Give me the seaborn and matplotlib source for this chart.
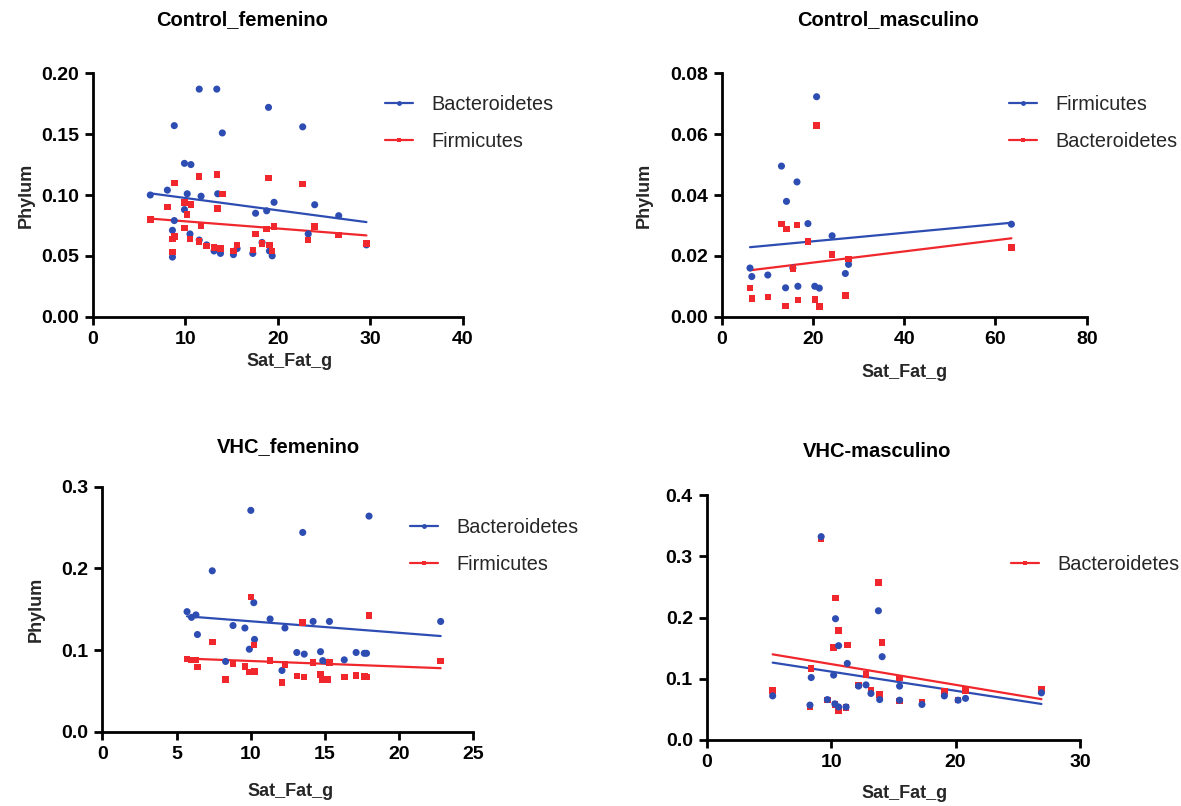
import matplotlib
matplotlib.use("Agg")
import matplotlib.pyplot as plt
from matplotlib.lines import Line2D
from matplotlib.ticker import FormatStrFormatter
import seaborn as sns

sns.set_theme(style="ticks")
plt.rcParams["font.family"] = ["Liberation Sans", "DejaVu Sans"]

BLUE = "#2E4DB3"
RED = "#F0272C"

# ---- Control_femenino ----
cf_sat_fat = [6.2, 8.05, 8.8, 8.8, 8.6, 8.6, 9.9, 9.9, 10.6, 10.2, 10.5, 11.5, 11.5, 11.7,
              12.3, 13.4, 13.5, 13.1, 13.8, 14.0, 15.6, 15.2, 17.3, 17.6, 18.3, 18.8, 19.0,
              19.1, 19.4, 19.6, 22.7, 23.3, 24.0, 26.6, 29.6]
cf_bacteroidetes = [0.100, 0.104, 0.157, 0.079, 0.071, 0.049, 0.126, 0.088, 0.125, 0.101,
                    0.068, 0.187, 0.063, 0.099, 0.059, 0.187, 0.101, 0.054, 0.052, 0.151,
                    0.056, 0.051, 0.052, 0.085, 0.061, 0.087, 0.172, 0.054, 0.050, 0.094,
                    0.156, 0.068, 0.092, 0.083, 0.059]
cf_firmicutes = [0.080, 0.090, 0.110, 0.066, 0.064, 0.053, 0.094, 0.073, 0.092, 0.084,
                 0.064, 0.115, 0.062, 0.075, 0.058, 0.117, 0.089, 0.057, 0.056, 0.101,
                 0.059, 0.054, 0.055, 0.068, 0.060, 0.072, 0.114, 0.059, 0.054, 0.074,
                 0.109, 0.063, 0.074, 0.067, 0.060]

# ---- Control_masculino ----
cm_sat_fat = [6.2, 6.6, 10.1, 13.1, 14.0, 14.2, 15.6, 16.5, 16.7, 18.9, 20.4, 20.8, 21.4,
              24.2, 27.1, 27.8, 63.5]
cm_firmicutes = [0.0160, 0.0132, 0.0137, 0.0495, 0.0095, 0.0379, 0.0160, 0.0443, 0.0100,
                 0.0306, 0.0100, 0.0723, 0.0094, 0.0266, 0.0142, 0.0172, 0.0304]
cm_bacteroidetes = [0.0095, 0.0059, 0.0065, 0.0304, 0.0035, 0.0288, 0.0158, 0.0302, 0.0055,
                    0.0247, 0.0057, 0.0628, 0.0034, 0.0204, 0.0070, 0.0190, 0.0227]

# ---- VHC_femenino ----
vf_sat_fat = [5.7, 6.0, 6.3, 6.4, 7.4, 8.3, 8.8, 9.6, 9.9, 10.0, 10.2, 10.25, 11.3, 12.1,
              12.3, 13.1, 13.5, 13.6, 14.2, 14.7, 14.85, 15.2, 15.3, 16.3, 17.1, 17.65,
              17.8, 17.97, 22.8]
vf_bacteroidetes = [0.147, 0.140, 0.143, 0.119, 0.197, 0.086, 0.130, 0.127, 0.101, 0.271,
                    0.158, 0.113, 0.138, 0.075, 0.127, 0.097, 0.244, 0.095, 0.135, 0.098,
                    0.087, 0.085, 0.135, 0.088, 0.097, 0.096, 0.096, 0.264, 0.135]
vf_firmicutes = [0.089, 0.088, 0.088, 0.079, 0.110, 0.064, 0.083, 0.080, 0.073, 0.165,
                 0.106, 0.074, 0.087, 0.060, 0.082, 0.068, 0.134, 0.067, 0.085, 0.070,
                 0.064, 0.064, 0.085, 0.067, 0.0686, 0.0678, 0.067, 0.142, 0.0865]

# ---- VHC-masculino ----
vm_sat_fat = [5.3, 8.3, 8.4, 9.2, 9.7, 10.2, 10.3, 10.35, 10.6, 10.6, 11.2, 11.3, 12.2,
              12.8, 13.2, 13.8, 13.9, 14.1, 15.5, 15.5, 17.3, 19.1, 20.2, 20.8, 26.9]
vm_firmicutes = [0.072, 0.057, 0.102, 0.332, 0.066, 0.106, 0.059, 0.198, 0.154, 0.054,
                 0.054, 0.125, 0.088, 0.090, 0.076, 0.211, 0.066, 0.136, 0.088, 0.065,
                 0.058, 0.072, 0.065, 0.068, 0.077]
vm_bacteroidetes = [0.081, 0.054, 0.117, 0.329, 0.065, 0.151, 0.058, 0.232, 0.179, 0.047,
                    0.053, 0.155, 0.090, 0.107, 0.082, 0.257, 0.074, 0.159, 0.101, 0.064,
                    0.062, 0.079, 0.065, 0.081, 0.083]

W, H = 1181, 806
fig = plt.figure(figsize=(W / 100, H / 100), dpi=100)


def px_axes(left, right, top, bottom):
    return fig.add_axes([left / W, 1 - bottom / H, (right - left) / W, (bottom - top) / H])


def draw_series(ax, x, y, color, marker, size):
    sns.scatterplot(x=x, y=y, color=color, marker=marker, s=size, edgecolor="none",
                    linewidth=0, legend=False, ax=ax, zorder=3, clip_on=False)
    sns.regplot(x=x, y=y, scatter=False, ci=None, truncate=True, color=color,
                line_kws=dict(lw=1.6, zorder=2), ax=ax)


def style_axes(ax, xlim, xticks, ylim, yticks, yfmt, show_ylabel, xlab_pos, ylab_pos):
    ax.set_xlim(*xlim)
    ax.set_ylim(*ylim)
    ax.set_xticks(xticks)
    ax.set_yticks(yticks)
    ax.yaxis.set_major_formatter(FormatStrFormatter(yfmt))
    sns.despine(ax=ax)
    for side in ("left", "bottom"):
        ax.spines[side].set_linewidth(2.0)
        ax.spines[side].set_color("black")
    ax.tick_params(axis="both", direction="out", length=6, width=2.0, color="black",
                   labelsize=14, pad=4, labelcolor="black")
    for lab in ax.get_xticklabels() + ax.get_yticklabels():
        lab.set_fontweight("bold")
    ax.set_xlabel("Sat_Fat_g", fontsize=13, fontweight="bold")
    ax.xaxis.set_label_coords(*xlab_pos)
    if show_ylabel:
        ax.set_ylabel("Phylum", fontsize=13, fontweight="bold")
        ax.yaxis.set_label_coords(*ylab_pos)
    else:
        ax.set_ylabel("")
    ax.grid(False)


def add_legend(ax, entries, x_px, y_px):
    handles = [Line2D([0], [0], color=c, lw=1.6, marker=m, markersize=3.5,
                      markeredgewidth=0) for c, m, _ in entries]
    labels = [t for _, _, t in entries]
    ax.legend(handles, labels, loc="center left", bbox_to_anchor=(x_px / W, 1 - y_px / H),
              bbox_transform=fig.transFigure, frameon=False, fontsize=14.3, borderpad=0,
              borderaxespad=0, handlelength=1.4, handletextpad=0.95, labelspacing=0.9)


# Control_femenino
ax1 = px_axes(93, 462.5, 73.3, 316.7)
draw_series(ax1, cf_sat_fat, cf_bacteroidetes, BLUE, "o", 26)
draw_series(ax1, cf_sat_fat, cf_firmicutes, RED, "s", 22)
style_axes(ax1, (0, 40), [0, 10, 20, 30, 40], (0, 0.20), [0, 0.05, 0.10, 0.15, 0.20],
           "%.2f", True, (0.533, -0.15), (-0.158, 0.5))
add_legend(ax1, [(BLUE, "o", "Bacteroidetes"), (RED, "s", "Firmicutes")], 385, 123)

# Control_masculino
ax2 = px_axes(721.7, 1086.7, 73.3, 316.7)
draw_series(ax2, cm_sat_fat, cm_firmicutes, BLUE, "o", 26)
draw_series(ax2, cm_sat_fat, cm_bacteroidetes, RED, "s", 22)
style_axes(ax2, (0, 80), [0, 20, 40, 60, 80], (0, 0.08), [0, 0.02, 0.04, 0.06, 0.08],
           "%.2f", True, (0.502, -0.195), (-0.188, 0.5))
add_legend(ax2, [(BLUE, "o", "Firmicutes"), (RED, "s", "Bacteroidetes")], 1009, 123)

# VHC_femenino
ax3 = px_axes(102.5, 473.3, 486.7, 731.7)
draw_series(ax3, vf_sat_fat, vf_bacteroidetes, BLUE, "o", 26)
draw_series(ax3, vf_sat_fat, vf_firmicutes, RED, "s", 22)
style_axes(ax3, (0, 25), [0, 5, 10, 15, 20, 25], (0, 0.3), [0, 0.1, 0.2, 0.3],
           "%.1f", True, (0.506, -0.21), (-0.156, 0.5))
add_legend(ax3, [(BLUE, "o", "Bacteroidetes"), (RED, "s", "Firmicutes")], 410, 546)

# VHC-masculino
ax4 = px_axes(706.7, 1080, 495, 740)
draw_series(ax4, vm_sat_fat, vm_bacteroidetes, RED, "s", 22)
draw_series(ax4, vm_sat_fat, vm_firmicutes, BLUE, "o", 26)
style_axes(ax4, (0, 30), [0, 10, 20, 30], (0, 0.4), [0, 0.1, 0.2, 0.3, 0.4],
           "%.1f", False, (0.531, -0.185), None)
add_legend(ax4, [(RED, "s", "Bacteroidetes")], 1011, 564)

# Panel titles
for text, xp, yp in [("Control_femenino", 242, 20), ("Control_masculino", 888, 20),
                     ("VHC_femenino", 288, 447), ("VHC-masculino", 877, 452)]:
    fig.text(xp / W, 1 - yp / H, text, ha="center", va="center", fontsize=14.5,
             fontweight="bold", color="black")

fig.savefig("out.png", dpi=100, facecolor="white")
